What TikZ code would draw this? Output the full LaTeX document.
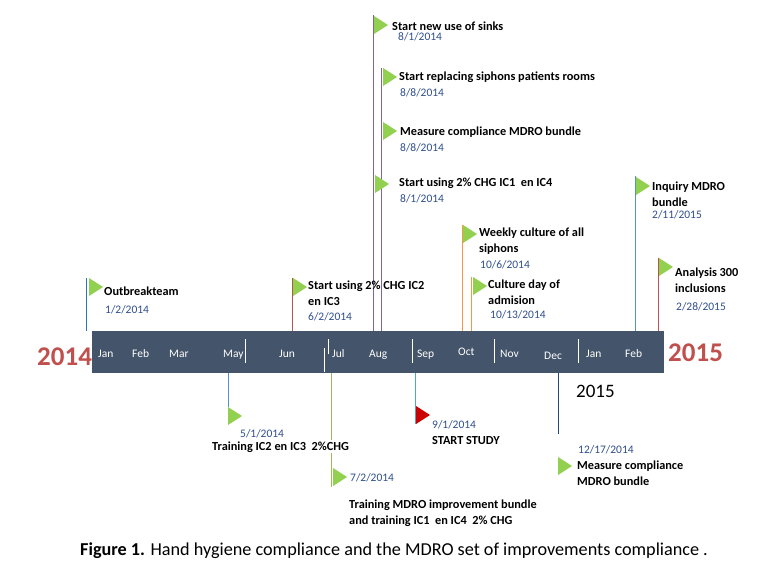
\documentclass[tikz,border=0pt]{standalone}
\usepackage{fontspec}
\setmainfont{Carlito}
\usepackage{tikz}
\usetikzlibrary{positioning}
\usepackage{xcolor}
\definecolor{barblue}{HTML}{44546A}
\definecolor{yearred}{HTML}{C0504D}
\definecolor{flaggreen}{HTML}{92D050}
\definecolor{datecol}{HTML}{2F4E8C}
\definecolor{evblue}{HTML}{2E75B6}
\definecolor{evred}{HTML}{B85450}
\definecolor{evpurple}{HTML}{8064A2}
\definecolor{evorange}{HTML}{F79646}
\definecolor{evgreen}{HTML}{9BBB59}
\definecolor{evcyan}{HTML}{4BACC6}
\definecolor{evdark}{HTML}{1F497D}

\begin{document}
\begin{tikzpicture}[x=1pt,y=-1pt,
  lbl/.style={font=\bfseries\fontsize{12.3}{15.5}\selectfont,inner sep=0pt,anchor=base west,align=left},
  dte/.style={font=\fontsize{11.5}{14}\selectfont,text=datecol,inner sep=0pt,anchor=base west},
  mon/.style={font=\fontsize{11.5}{14}\selectfont,text=white,inner sep=0pt,anchor=base west},
  yr/.style={font=\bfseries\fontsize{27}{30}\selectfont,text=yearred,inner sep=0pt,anchor=base west},
  ev/.style={line width=0.8pt},
  sep/.style={white,line width=1pt}]
  \useasboundingbox (0,0) rectangle (773,564);
  % time bar
  \node[fill=barblue,minimum width=572pt,minimum height=42pt,inner sep=0pt,anchor=north west] (bar) at (92,331) {};
  \draw[sep] (245,339) -- (245,363);
  \draw[sep] (328,339) -- (328,354);
  \draw[sep] (324,348) -- (324,372);
  \draw[sep] (412,339) -- (412,363);
  \draw[sep] (494,339) -- (494,363);
  \draw[sep] (578,339) -- (578,363);
  \node[yr] (y14) at (37,365) {2014};
  \node[yr] (y15) at (668,361) {2015};
  \node[mon] (m1) at (98,357) {Jan};
  \node[mon] (m2) at (132,357) {Feb};
  \node[mon] (m3) at (169,357) {Mar};
  \node[mon] (m5) at (223,357) {May};
  \node[mon] (m6) at (279,357) {Jun};
  \node[mon] (m7) at (332,357) {Jul};
  \node[mon] (m8) at (369,357) {Aug};
  \node[mon] (m9) at (417,357) {Sep};
  \node[mon] (m10) at (458,355) {Oct};
  \node[mon] (m11) at (500,357) {Nov};
  \node[mon] (m12) at (544,359) {Dec};
  \node[mon] (n1) at (586,357) {Jan};
  \node[mon] (n2) at (625,357) {Feb};

  % marker lines above the bar
  \coordinate (outb) at (86,278);
  \coordinate (ictwo) at (292,278);
  \coordinate (sinks) at (373,15);
  \coordinate (siph) at (381,68);
  \coordinate (week) at (462,225);
  \coordinate (admi) at (471,277);
  \coordinate (inqu) at (635,176);
  \coordinate (anal) at (658,258);
  \draw[ev,evblue] (outb) -- (outb |- bar.north);
  \draw[ev,evred] (ictwo) -- (ictwo |- bar.north);
  \draw[ev,evpurple] (sinks) -- (sinks |- bar.north);
  \draw[ev,evpurple] (siph) -- (siph |- bar.north);
  \draw[ev,evorange] (week) -- (week |- bar.north);
  \draw[ev,evorange] (admi) -- (admi |- bar.north);
  \draw[ev,evblue!80] (inqu) -- (inqu |- bar.north);
  \draw[ev,yearred] (anal) -- (anal |- bar.north);

  % marker lines below the bar
  \coordinate (trone) at (228,407);
  \coordinate (trtwo) at (331,487);
  \coordinate (study) at (415,424);
  \coordinate (dec) at (558,434);
  \draw[ev,evblue!80] (trone |- bar.south) -- (trone);
  \draw[ev,evgreen] (trtwo |- bar.south) -- (trtwo);
  \draw[ev,evcyan] (study |- bar.south) -- (study);
  \draw[ev,evdark] (dec |- bar.south) -- (dec);

  % flags
  \foreach \x/\y in {374/16,383/68,383/122,375/175,89/278,293/278,463/225,473/277,636/177,659/258,228/407,333/468,558/457}
    \fill[flaggreen] (\x,\y) -- ++(14,9) -- ++(-14,9) -- cycle;
  \fill[red!80!black] (416,406) -- ++(14,9) -- ++(-14,9) -- cycle;

  % labels above
  \node[lbl] (t1) at (392,31) {Start new use of sinks};
  \node[dte] (d1) at (398,41) {8/1/2014};
  \node[lbl] (t2) at (399,81) {Start replacing siphons patients rooms};
  \node[dte] (d2) at (400,97) {8/8/2014};
  \node[lbl] (t3) at (400,136) {Measure compliance MDRO bundle};
  \node[dte] (d3) at (400,152) {8/8/2014};
  \node[lbl] (t4) at (399,186) {Start using 2\% CHG IC1 \ en IC4};
  \node[dte] (d4) at (400,202) {8/1/2014};
  \node[lbl] (t5) at (104,295) {Outbreakteam};
  \node[dte] (d5) at (105,313) {1/2/2014};
  \node[lbl] (t6) at (308,305) {Start using 2\% CHG IC2\\en IC3};
  \node[dte] (d6) at (308,320) {6/2/2014};
  \node[lbl] (t7) at (479,252) {Weekly culture of all\\siphons};
  \node[dte] (d7) at (480,268) {10/6/2014};
  \node[lbl] (t8) at (488,304) {Culture day of\\admision};
  \node[dte] (d8) at (490,318) {10/13/2014};
  \node[lbl] (t9) at (652,206) {Inquiry MDRO\\bundle};
  \node[dte] (d9) at (652,218) {2/11/2015};
  \node[lbl] (t10) at (675,292) {Analysis 300\\inclusions};
  \node[dte] (d10) at (676,310) {2/28/2015};

  % labels below
  \node[dte] (d11) at (240,437) {5/1/2014};
  \node[lbl,fill=white,inner ysep=1pt] (t11) at (212,450) {Training IC2 en IC3 \ 2\%CHG};
  \node[dte] (d12) at (350,481) {7/2/2014};
  \node[lbl] (t12) at (349,524) {Training MDRO improvement bundle\\and training IC1 \ en IC4 \ 2\% CHG};
  \node[dte] (d13) at (432,428) {9/1/2014};
  \node[lbl] (t13) at (432,444) {START STUDY};
  \node[font=\fontsize{19}{22}\selectfont,inner sep=0pt,anchor=base west] (y15b) at (576,397) {2015};
  \node[dte] (d14) at (578,453) {12/17/2014};
  \node[lbl] (t14) at (577,485) {Measure compliance\\MDRO bundle};

  % caption
  \node[font=\fontsize{18.2}{21}\selectfont,inner sep=0pt,anchor=base west] (cap) at (80,555)
    {\textbf{Figure 1.} Hand hygiene compliance and the MDRO set of improvements compliance .};
\end{tikzpicture}
\end{document}
